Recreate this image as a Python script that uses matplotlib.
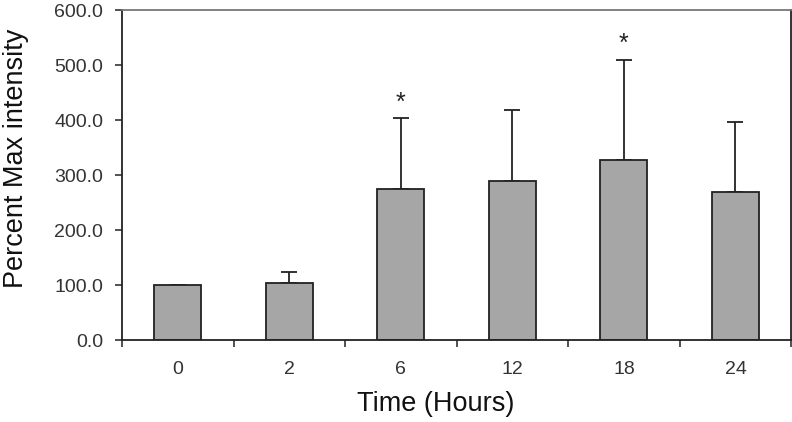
import numpy as np
import matplotlib.pyplot as plt
from matplotlib.ticker import FormatStrFormatter, FixedLocator

hours = ['0', '2', '6', '12', '18', '24']
means = [100.0, 104.0, 274.0, 289.0, 327.0, 269.0]
err_up = [0.0, 20.0, 130.0, 130.0, 183.0, 127.0]
signif = [False, False, True, False, True, False]

plt.rcParams['font.family'] = ['Liberation Sans', 'DejaVu Sans']

fig = plt.figure(figsize=(7.92, 4.22), dpi=100)
ax = fig.add_axes([0.154, 0.194, 0.845, 0.782])

x = np.arange(len(hours))
ax.bar(x, means, width=0.42, color='#a6a6a6', edgecolor='#222222', linewidth=1.3, zorder=2)
ax.errorbar(x, means, yerr=[np.zeros(len(means)), err_up], fmt='none',
            ecolor='#222222', elinewidth=1.3, capsize=6, capthick=1.3, zorder=1)

for i in range(len(hours)):
    if signif[i]:
        ax.text(x[i], means[i] + err_up[i] + 28, '*', ha='center', va='center',
                fontsize=18, color='#222222')

ax.set_xlim(-0.5, len(hours) - 0.5)
ax.set_ylim(0, 600)
ax.set_yticks(np.arange(0, 601, 100))
ax.yaxis.set_major_formatter(FormatStrFormatter('%.1f'))
ax.set_xticks(x)
ax.set_xticklabels(hours)
ax.xaxis.set_major_locator(FixedLocator(x))
ax.xaxis.set_minor_locator(FixedLocator(np.arange(-0.5, len(hours), 1.0)))
ax.tick_params(axis='x', which='major', length=0, pad=15, labelsize=14, labelcolor='#333333')
ax.tick_params(axis='x', which='minor', length=5, width=1.2, color='#333333')
ax.tick_params(axis='y', length=5, width=1.2, pad=8.6, labelsize=14, labelcolor='#333333', color='#333333')

for side in ['left', 'bottom', 'right']:
    ax.spines[side].set_color('#222222')
    ax.spines[side].set_linewidth(1.3)
ax.spines['top'].set_color('#777777')
ax.spines['top'].set_linewidth(1.3)

ax.set_xlabel('Time (Hours)', fontsize=19.5, color='#111111', va='center')
ax.xaxis.set_label_coords(0.469, -0.194)
ax.set_ylabel('Percent Max intensity', fontsize=19.5, color='#111111', va='center')
ax.yaxis.set_label_coords(-0.158, 0.552)

fig.savefig('out.png', dpi=100)
